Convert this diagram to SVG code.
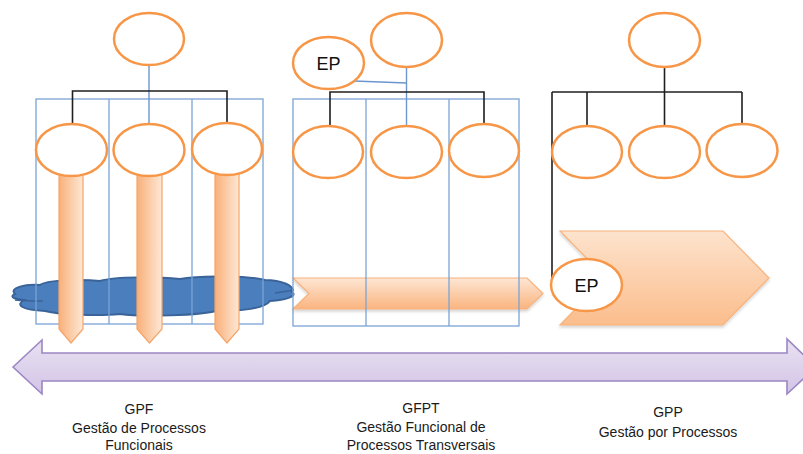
<svg xmlns="http://www.w3.org/2000/svg" width="803" height="454" viewBox="0 0 803 454">
  <defs>
    <linearGradient id="gradShaft" x1="0" y1="0" x2="1" y2="0">
      <stop offset="0" stop-color="#f9b07a"/>
      <stop offset="1" stop-color="#fde8d6"/>
    </linearGradient>
    <linearGradient id="gradChevron" x1="0" y1="0" x2="0" y2="1">
      <stop offset="0" stop-color="#fde6d4"/>
      <stop offset="1" stop-color="#fab47f"/>
    </linearGradient>
    <linearGradient id="gradBig" x1="0" y1="0" x2="0" y2="1">
      <stop offset="0" stop-color="#fde3cd"/>
      <stop offset="1" stop-color="#fbbd8c"/>
    </linearGradient>
    <linearGradient id="gradTimeline" x1="0" y1="0" x2="0" y2="1">
      <stop offset="0" stop-color="#e9e2f2"/>
      <stop offset="1" stop-color="#d2c4e6"/>
    </linearGradient>
    <filter id="softShadow" x="-5%" y="-10%" width="110%" height="130%">
      <feDropShadow dx="0" dy="2" stdDeviation="1.5" flood-color="#000" flood-opacity="0.18"/>
    </filter>
  </defs>
  <style>
    .node { fill: #ffffff; stroke: #f79646; stroke-width: 2.5; }
    .frame { fill: none; stroke: #7aa3d6; stroke-width: 1.3; }
    .tree { fill: none; stroke: #1f1f1f; stroke-width: 1.6; }
    .link { fill: none; stroke: #6b96cf; stroke-width: 1.4; }
    .shaft { fill: url(#gradShaft); stroke: #f5a569; stroke-width: 1.2; }
    .label { font-family: "Liberation Sans", Arial, sans-serif; font-size: 14px; fill: #1a1a1a; text-anchor: middle; }
    .ep { font-family: "Liberation Sans", Arial, sans-serif; font-size: 18px; fill: #111; text-anchor: middle; }
  </style>

  <rect width="803" height="454" fill="#ffffff"/>

  <!-- GPF: functional silos over a shared cloud -->
  <g id="gpf-cloud">
    <path d="M15,294 C9,288 24,284 40,285 C46,280 80,279 100,281 C116,276 160,277 180,279 C200,275 250,276 265,280 C281,280 296,286 292,292 C298,296 286,300 270,301 C265,308 240,312 220,310 C200,316 140,317 120,314 C100,316 60,315 45,311 C22,310 15,305 24,300 C12,299 10,296 15,294 Z" fill="#4a7ebd" stroke="#3a6499" stroke-width="2"/>
    <path d="M15,300 C25,301 35,301 43,301" fill="none" stroke="#3a6499" stroke-width="1.6"/>
    <path d="M275,293 C282,292 288,291 294,290" fill="none" stroke="#3a6499" stroke-width="1.6"/>
  </g>
  <g id="gpf-frame">
    <rect class="frame" x="36" y="99" width="227" height="225"/>
    <line class="frame" x1="109" y1="99" x2="109" y2="324"/>
    <line class="frame" x1="192" y1="99" x2="192" y2="324"/>
  </g>
  <g id="gpf-shafts">
    <polygon class="shaft" points="59,165 83,165 83,329 71,343 59,329"/>
    <polygon class="shaft" points="137,165 162,165 162,329 149.5,343 137,329"/>
    <polygon class="shaft" points="215,165 239,165 239,329 227,343 215,329"/>
  </g>

  <!-- GFPT: flow running across the functions -->
  <g id="gfpt-flow">
    <polygon points="293,278 527,278 543,293.5 527,309 293,309 309,293.5" fill="url(#gradChevron)" stroke="#f7b27c" stroke-width="1.2" filter="url(#softShadow)"/>
  </g>
  <g id="gfpt-frame">
    <rect class="frame" x="293" y="99" width="226" height="227"/>
    <line class="frame" x1="366" y1="99" x2="366" y2="326"/>
    <line class="frame" x1="449" y1="99" x2="449" y2="326"/>
  </g>

  <!-- GPP: process chevron -->
  <g id="gpp-flow">
    <polygon points="560,231 723,231 769,278 723,325 560,325 606,278" fill="url(#gradBig)" stroke="#f7b27c" stroke-width="1.2" filter="url(#softShadow)"/>
  </g>

  <!-- connectors -->
  <g id="connectors">
    <line class="link" x1="149" y1="65" x2="149" y2="124"/>
    <polyline class="tree" points="72.5,124 72.5,91 227,91 227,123"/>

    <line class="link" x1="406.5" y1="67" x2="406.5" y2="126"/>
    <line class="link" x1="354" y1="81" x2="406.5" y2="83"/>
    <polyline class="tree" points="330,126 330,92 484,92 484,124"/>

    <line class="tree" x1="664.5" y1="67" x2="664.5" y2="126"/>
    <line class="tree" x1="552" y1="92" x2="742" y2="92"/>
    <line class="tree" x1="587" y1="92" x2="587" y2="126"/>
    <line class="tree" x1="742" y1="92" x2="742" y2="124"/>
    <line class="tree" x1="552" y1="92" x2="552" y2="285"/>
  </g>

  <!-- GPF nodes -->
  <g id="gpf-top"><ellipse class="node" cx="149" cy="39" rx="35" ry="26"/></g>
  <g id="gpf-f1"><ellipse class="node" cx="71.5" cy="150" rx="35.5" ry="26"/></g>
  <g id="gpf-f2"><ellipse class="node" cx="149" cy="150" rx="35.5" ry="26"/></g>
  <g id="gpf-f3"><ellipse class="node" cx="227" cy="149" rx="35" ry="26"/></g>

  <!-- GFPT nodes -->
  <g id="gfpt-top"><ellipse class="node" cx="406.5" cy="40" rx="35.5" ry="27"/></g>
  <g id="gfpt-ep">
    <ellipse class="node" cx="328.5" cy="63" rx="35.5" ry="26"/>
    <text class="ep" x="328.5" y="70">EP</text>
  </g>
  <g id="gfpt-f1"><ellipse class="node" cx="328" cy="152" rx="35" ry="26"/></g>
  <g id="gfpt-f2"><ellipse class="node" cx="406.5" cy="152" rx="35.5" ry="26"/></g>
  <g id="gfpt-f3"><ellipse class="node" cx="484" cy="150.5" rx="35" ry="26.5"/></g>

  <!-- GPP nodes -->
  <g id="gpp-top"><ellipse class="node" cx="664.5" cy="40" rx="35.5" ry="27"/></g>
  <g id="gpp-f1"><ellipse class="node" cx="587" cy="152" rx="35" ry="26"/></g>
  <g id="gpp-f2"><ellipse class="node" cx="664.5" cy="152" rx="35.5" ry="26"/></g>
  <g id="gpp-f3"><ellipse class="node" cx="742" cy="150.5" rx="35.5" ry="26.5"/></g>
  <g id="gpp-ep">
    <ellipse class="node" cx="586.5" cy="285" rx="35.5" ry="26"/>
    <text class="ep" x="586.5" y="292">EP</text>
  </g>

  <!-- evolution timeline -->
  <g id="timeline">
    <polygon points="13,367 42,340 42,353 787,353 787,339 816,367 787,394 787,381 42,381 42,394" fill="url(#gradTimeline)" stroke="#9c86c4" stroke-width="1.6"/>
  </g>

  <!-- stage labels -->
  <g id="label-gpf">
    <text class="label" x="139" y="414">GPF</text>
    <text class="label" x="139" y="433">Gestão de Processos</text>
    <text class="label" x="139" y="450">Funcionais</text>
  </g>
  <g id="label-gfpt">
    <text class="label" x="421" y="413">GFPT</text>
    <text class="label" x="421" y="432">Gestão Funcional de</text>
    <text class="label" x="421" y="450">Processos Transversais</text>
  </g>
  <g id="label-gpp">
    <text class="label" x="668" y="417">GPP</text>
    <text class="label" x="668" y="437">Gestão por Processos</text>
  </g>
</svg>
